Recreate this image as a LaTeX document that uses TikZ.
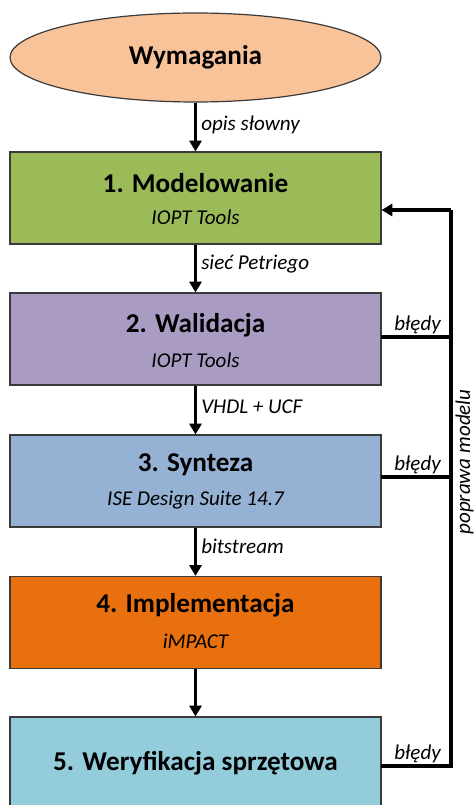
\documentclass[tikz,border=0pt]{standalone}
\usepackage{fontspec}
\setmainfont{Carlito}
\usetikzlibrary{shapes.geometric,arrows.meta,calc}
\definecolor{cEll}{HTML}{F9C39A}
\definecolor{cOne}{HTML}{9BBB59}
\definecolor{cTwo}{HTML}{A99BC1}
\definecolor{cThree}{HTML}{95B1D4}
\definecolor{cFour}{HTML}{E8700E}
\definecolor{cFive}{HTML}{93CDDC}
\definecolor{cBorder}{HTML}{3A3A3A}
\tikzset{
  stagebox/.style={draw=cBorder, line width=0.9pt, minimum width=278.25pt, minimum height=69pt, inner sep=0pt},
  titletext/.style={font=\fontsize{20.4pt}{23pt}\selectfont\bfseries, inner sep=0pt},
  subtext/.style={font=\fontsize{15.8pt}{18pt}\selectfont\itshape, inner sep=0pt},
  lbl/.style={font=\fontsize{15.8pt}{18pt}\selectfont\itshape, inner sep=0pt},
  flow/.style={line width=2.3pt, -{Triangle[length=8pt,width=9pt]}},
  loopline/.style={line width=2.3pt}
}
\begin{document}
\begin{tikzpicture}[x=0.75pt,y=-0.75pt]
\useasboundingbox (0,0) rectangle (475,805);
\begin{scope}
\clip (0,0) rectangle (475,805);
\node[ellipse, draw=cBorder, line width=0.9pt, fill=cEll, minimum width=278.25pt, minimum height=66.75pt, inner sep=0pt] (req) at (195.5,57.5) {};
\node[titletext] (reqt) at (195.5,57.5) {Wymagania};
\node[stagebox, fill=cOne] (b1) at (195.5,198) {};
\node[stagebox, fill=cTwo] (b2) at (195.5,339) {};
\node[stagebox, fill=cThree] (b3) at (195.5,481) {};
\node[stagebox, fill=cFour] (b4) at (195.5,622.5) {};
\node[stagebox, fill=cFive] (b5) at (195.5,763) {};
\end{scope}

\node[titletext] (t1) at (195.5,183) {1. Modelowanie};
\node[subtext] (s1) at (195.5,217) {IOPT Tools};
\node[titletext] (t2) at (195.5,325) {2. Walidacja};
\node[subtext] (s2) at (195.5,360) {IOPT Tools};
\node[titletext] (t3) at (195.5,465) {3. Synteza};
\node[subtext] (s3) at (195.5,500) {ISE Design Suite 14.7};
\node[titletext] (t4) at (195.5,605) {4. Implementacja};
\node[subtext] (s4) at (195.5,641) {iMPACT};
\node[titletext] (t5) at (195.5,763) {5. Weryfikacja sprzętowa};

\draw[flow] (req.south) -- (b1.north);
\draw[flow] (b1.south) -- (b2.north);
\draw[flow] (b2.south) -- (b3.north);
\draw[flow] (b3.south) -- (b4.north);
\draw[flow] (b4.south) -- (b5.north);

\node[lbl, anchor=base west] (l1) at (201,131) {opis słowny};
\node[lbl, anchor=base west] (l2) at (201,269) {sieć Petriego};
\node[lbl, anchor=base west] (l3) at (201,413) {VHDL + UCF};
\node[lbl, anchor=base west] (l4) at (201,553) {bitstream};

\coordinate (rtop) at (451,210);
\coordinate (rbot) at (451,766);
\coordinate (e2) at (381.25,337);
\coordinate (e3) at (381.25,477);
\coordinate (e5) at (381.25,766);
\draw[loopline] (e5) -- (rbot) -- (rtop);
\draw[flow] (rtop) -- (b1.east |- rtop);
\draw[loopline] (e2) -- (rtop |- e2);
\draw[loopline] (e3) -- (rtop |- e3);

\node[lbl, anchor=base east] (err2) at (441,330) {błędy};
\node[lbl, anchor=base east] (err3) at (441,470) {błędy};
\node[lbl, anchor=base east] (err5) at (441,759) {błędy};
\node[lbl, rotate=90] (fix) at (464.5,462) {poprawa modelu};
\end{tikzpicture}
\end{document}
